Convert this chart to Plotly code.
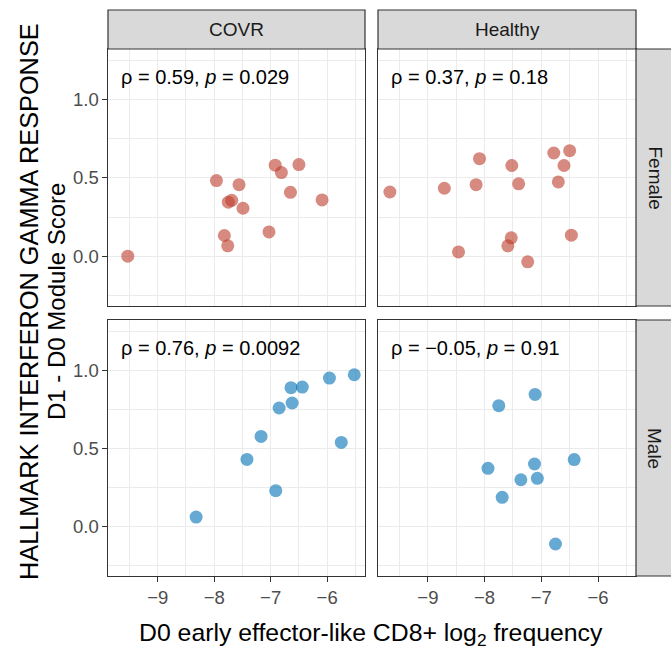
import plotly.graph_objects as go

# ---------------- data ----------------
covr_female_x = [-9.53, -7.96, -7.56, -7.69, -7.75, -7.49, -7.82, -7.76, -7.03, -6.92, -6.81, -6.50, -6.65, -6.09]
covr_female_y = [0.00, 0.483, 0.457, 0.357, 0.345, 0.306, 0.132, 0.066, 0.155, 0.581, 0.534, 0.585, 0.408, 0.359]

healthy_female_x = [-9.67, -8.71, -8.15, -8.09, -7.52, -7.40, -6.78, -6.50, -6.60, -6.70, -6.47, -7.53, -7.59, -8.46, -7.24]
healthy_female_y = [0.410, 0.434, 0.457, 0.623, 0.579, 0.462, 0.659, 0.674, 0.579, 0.474, 0.134, 0.117, 0.066, 0.027, -0.036]

covr_male_x = [-8.32, -7.42, -7.17, -6.91, -6.85, -6.62, -6.64, -6.44, -5.96, -5.52, -5.75]
covr_male_y = [0.060, 0.429, 0.577, 0.229, 0.759, 0.791, 0.889, 0.893, 0.951, 0.972, 0.538]

healthy_male_x = [-7.11, -7.75, -7.94, -7.12, -6.42, -7.36, -7.07, -7.69, -6.75]
healthy_male_y = [0.846, 0.774, 0.372, 0.400, 0.428, 0.299, 0.308, 0.186, -0.113]

col_labels = ["COVR", "Healthy"]
row_labels = ["Female", "Male"]
stat_labels = ["ρ = 0.59, <i>p</i> = 0.029", "ρ = 0.37, <i>p</i> = 0.18",
               "ρ = 0.76, <i>p</i> = 0.0092", "ρ = \u22120.05, <i>p</i> = 0.91"]
x_ticks = [-9, -8, -7, -6]
y_ticks = [0.0, 0.5, 1.0]
y_tick_text = ["0.0", "0.5", "1.0"]
x_title = "D0 early effector-like CD8+ log<sub>2</sub> frequency"
y_title_lines = ["HALLMARK INTERFERON GAMMA RESPONSE", "D1 - D0 Module Score"]

# ---------------- styling ----------------
W, H = 671, 649
FONT = "Liberation Sans, Arial, sans-serif"
RED = "#BC3C29"
BLUE = "#0072B5"
DARK = "#333333"
GRID = "#EBEBEB"
X_RANGE = [-9.88, -5.33]
Y_RANGE = [-0.318, 1.323]


def fx(px):
    return px / W


def fy(py):
    return 1 - py / H


col_dom = [[fx(108), fx(365)], [fx(378), fx(636)]]
row_dom = [[fy(306), fy(49)], [fy(576), fy(320)]]

fig = go.Figure()

series = [
    (covr_female_x, covr_female_y, RED),
    (healthy_female_x, healthy_female_y, RED),
    (covr_male_x, covr_male_y, BLUE),
    (healthy_male_x, healthy_male_y, BLUE),
]

for i, (xs, ys, c) in enumerate(series):
    k = "" if i == 0 else str(i + 1)
    fig.add_trace(go.Scatter(
        x=xs, y=ys, mode="markers", xaxis="x" + k, yaxis="y" + k,
        marker=dict(color=c, size=13, opacity=0.6, line=dict(width=0)),
        showlegend=False, hoverinfo="x+y"))

layout = dict(
    width=W, height=H, autosize=False,
    margin=dict(l=0, r=0, t=0, b=0),
    paper_bgcolor="white", plot_bgcolor="white",
    font=dict(family=FONT, color="#1A1A1A"),
)

for i in range(4):
    r, c = divmod(i, 2)
    k = "" if i == 0 else str(i + 1)
    is_bottom = r == 1
    is_left = c == 0
    xa = dict(
        domain=col_dom[c], range=X_RANGE, anchor="y" + k,
        showline=True, mirror=True, linecolor=DARK, linewidth=1.2,
        showgrid=True, gridcolor=GRID, gridwidth=1.1, zeroline=False,
        tickmode="array", tickvals=x_ticks,
        minor=dict(dtick=0.5, tick0=-9, showgrid=True, gridcolor=GRID, gridwidth=0.6, ticks=""),
        ticks="outside" if is_bottom else "", ticklen=4.5, tickwidth=1.1, tickcolor=DARK,
        showticklabels=is_bottom,
        tickfont=dict(family=FONT, size=18.5, color="#4D4D4D"),
    )
    ya = dict(
        domain=row_dom[r], range=Y_RANGE, anchor="x" + k,
        showline=True, mirror=True, linecolor=DARK, linewidth=1.2,
        showgrid=True, gridcolor=GRID, gridwidth=1.1, zeroline=False,
        tickmode="array", tickvals=y_ticks, ticktext=y_tick_text,
        minor=dict(dtick=0.25, tick0=0, showgrid=True, gridcolor=GRID, gridwidth=0.6, ticks=""),
        ticks="outside" if is_left else "", ticklen=4.5, tickwidth=1.1, tickcolor=DARK,
        showticklabels=is_left,
        tickfont=dict(family=FONT, size=18.5, color="#4D4D4D"),
    )
    layout["xaxis" + k] = xa
    layout["yaxis" + k] = ya

fig.update_layout(**layout)

shapes = []
annotations = []

# top strips
for c in range(2):
    x0, x1 = col_dom[c]
    shapes.append(dict(type="rect", xref="paper", yref="paper",
                       x0=x0, x1=x1, y0=fy(49), y1=fy(10),
                       fillcolor="#D9D9D9", line=dict(color=DARK, width=1.2), layer="above"))
    annotations.append(dict(xref="paper", yref="paper", x=(x0 + x1) / 2, y=fy(30),
                            text=col_labels[c], showarrow=False, xanchor="center", yanchor="middle",
                            font=dict(family=FONT, size=19, color="#1A1A1A")))
# right strips
for r in range(2):
    y0, y1 = row_dom[r]
    shapes.append(dict(type="rect", xref="paper", yref="paper",
                       x0=fx(636), x1=fx(676), y0=y0, y1=y1,
                       fillcolor="#D9D9D9", line=dict(color=DARK, width=1.2), layer="above"))
    annotations.append(dict(xref="paper", yref="paper", x=fx(655), y=(y0 + y1) / 2,
                            text=row_labels[r], showarrow=False, textangle=90,
                            xanchor="center", yanchor="middle",
                            font=dict(family=FONT, size=19, color="#1A1A1A")))

# stat labels
for i in range(4):
    k = "" if i == 0 else str(i + 1)
    annotations.append(dict(xref="x" + k, yref="y" + k, x=-9.69, y=1.145,
                            text=stat_labels[i], showarrow=False, xanchor="left", yanchor="middle",
                            font=dict(family=FONT, size=20, color="black")))

# axis titles
annotations.append(dict(xref="paper", yref="paper", x=fx(371), y=fy(634),
                        text=x_title, showarrow=False, xanchor="center", yanchor="middle",
                        font=dict(family=FONT, size=24.8, color="black")))
for j, (line, px, fs) in enumerate(zip(y_title_lines, [29, 56], [25.3, 24])):
    annotations.append(dict(xref="paper", yref="paper", x=fx(px), y=fy(302),
                            text=line, showarrow=False, textangle=-90,
                            xanchor="center", yanchor="middle",
                            font=dict(family=FONT, size=fs, color="black")))

fig.update_layout(shapes=shapes, annotations=annotations)

fig.write_html(
    "out.html",
    config={"displayModeBar": False},
    post_script="document.body.style.margin='0';document.body.style.padding='0';"
                "document.documentElement.style.overflow='hidden';",
)
